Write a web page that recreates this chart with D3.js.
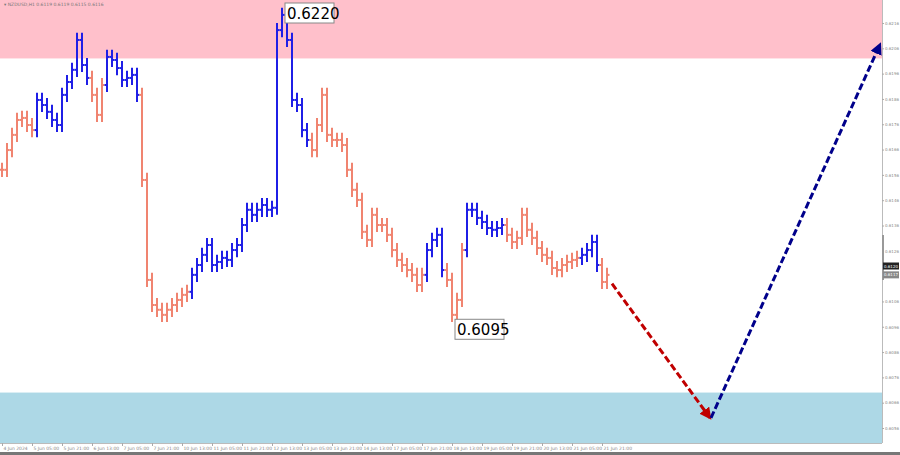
<!DOCTYPE html>
<html>
<head>
<meta charset="utf-8">
<script src="https://cdn.jsdelivr.net/npm/d3@7"></script>
<style>
  body { margin: 0; background: #fff; }
  text { font-family: "DejaVu Sans", sans-serif; }
</style>
</head>
<body>
<div id="container"></div>
<script>
var width = 900;
var height = 455;

// closing prices, NZDUSD H1 (sampled)
var closes = [
  0.61580, 0.61658, 0.61718, 0.61777, 0.61785, 0.61757, 0.61737, 0.61856, 0.61836, 0.61809,
  0.61777, 0.61757, 0.61876, 0.61927, 0.61975, 0.62093, 0.61994, 0.61943, 0.61876, 0.61797,
  0.61915, 0.62026, 0.62014, 0.61982, 0.61935, 0.61943, 0.61955, 0.61876, 0.61540, 0.61145,
  0.61046, 0.61027, 0.61007, 0.61027, 0.61046, 0.61066, 0.61086, 0.61098, 0.61165, 0.61204,
  0.61244, 0.61283, 0.61204, 0.61216, 0.61232, 0.61224, 0.61263, 0.61283, 0.61362, 0.61422,
  0.61402, 0.61422, 0.61441, 0.61422, 0.61430, 0.62132, 0.62192, 0.62093, 0.61856, 0.61836,
  0.61737, 0.61698, 0.61658, 0.61757, 0.61876, 0.61718, 0.61698, 0.61698, 0.61678, 0.61580,
  0.61501, 0.61461, 0.61335, 0.61303, 0.61402, 0.61362, 0.61362, 0.61323, 0.61263, 0.61224,
  0.61204, 0.61184, 0.61165, 0.61125, 0.61165, 0.61263, 0.61303, 0.61323, 0.61184, 0.61145,
  0.61007, 0.61066, 0.61263, 0.61422, 0.61422, 0.61390, 0.61374, 0.61350, 0.61343, 0.61350,
  0.61362, 0.61323, 0.61295, 0.61311, 0.61402, 0.61343, 0.61311, 0.61271, 0.61244, 0.61232,
  0.61192, 0.61184, 0.61204, 0.61216, 0.61224, 0.61232, 0.61244, 0.61263, 0.61295, 0.61204,
  0.61137, 0.61165
];
// wave colouring: [from, to] bar index ranges drawn blue (up waves)
var blueRanges = [[7, 17], [21, 27], [38, 61], [85, 88], [93, 100], [116, 119]];
var timeLabels = ["4 Jun 2024", "5 Jun 05:00", "5 Jun 21:00", "6 Jun 13:00", "7 Jun 05:00",
  "7 Jun 21:00", "10 Jun 13:00", "11 Jun 05:00", "11 Jun 21:00", "12 Jun 13:00", "13 Jun 05:00",
  "13 Jun 21:00", "14 Jun 13:00", "17 Jun 05:00", "17 Jun 21:00", "18 Jun 13:00", "19 Jun 05:00",
  "19 Jun 21:00", "20 Jun 13:00", "21 Jun 05:00", "21 Jun 21:00"];
var priceTicks = [0.6216, 0.6206, 0.6196, 0.6186, 0.6176, 0.6166, 0.6156, 0.6146, 0.6136,
  0.6126, 0.6106, 0.6096, 0.6086, 0.6076, 0.6066, 0.6056];
var resistanceZone = [0.6202, 0.6233];
var supportZone = [0.6050, 0.6070];
var forecastDown = [[122, 0.6113], [141.6, 0.6060]];
var forecastUp = [[141.8, 0.6060], [175.6, 0.62075]];
var extremes = [{ i: 56, p: 0.6220, label: "0.6220" }, { i: 90, p: 0.6095, label: "0.6095" }];

var plotRight = 882, plotBottom = 443;

var x = d3.scaleLinear().domain([0, closes.length - 1]).range([2, 607]);
var y = d3.scaleLinear().domain([0.6216, 0.6056]).range([23, 428]);

var svg = d3.select("#container").append("svg")
  .attr("width", width).attr("height", height);

svg.append("defs").append("clipPath").attr("id", "plot")
  .append("rect").attr("width", plotRight).attr("height", plotBottom);

var g = svg.append("g").attr("clip-path", "url(#plot)");

g.append("rect").attr("x", 0).attr("width", plotRight)
  .attr("y", y(resistanceZone[1])).attr("height", y(resistanceZone[0]) - y(resistanceZone[1]))
  .attr("fill", "#ffc0cb");
g.append("rect").attr("x", 0).attr("width", plotRight)
  .attr("y", y(supportZone[1])).attr("height", y(supportZone[0]) - y(supportZone[1]))
  .attr("fill", "#add8e6");

function isBlue(i) {
  return blueRanges.some(function(r) { return i >= r[0] && i <= r[1]; });
}

var wick = 0.00028;
var bars = g.append("g").selectAll("g").data(closes).enter().append("g")
  .attr("stroke", function(d, i) { return isBlue(i) ? "#1f1fe6" : "#f08470"; })
  .attr("stroke-width", 2);
bars.append("line")
  .attr("x1", function(d, i) { return x(i); }).attr("x2", function(d, i) { return x(i); })
  .attr("y1", function(d, i) { var o = i ? closes[i - 1] : d; return y(Math.max(o, d) + wick); })
  .attr("y2", function(d, i) { var o = i ? closes[i - 1] : d; return y(Math.min(o, d) - wick); });
bars.append("line")
  .attr("x1", function(d, i) { return x(i) - 2.5; }).attr("x2", function(d, i) { return x(i); })
  .attr("y1", function(d, i) { return y(i ? closes[i - 1] : d); })
  .attr("y2", function(d, i) { return y(i ? closes[i - 1] : d); });
bars.append("line")
  .attr("x1", function(d, i) { return x(i); }).attr("x2", function(d, i) { return x(i) + 2.5; })
  .attr("y1", function(d) { return y(d); }).attr("y2", function(d) { return y(d); });

// forecast arrows
var defs = svg.select("defs");
[["ahRed", "#c00000"], ["ahBlue", "#00008b"]].forEach(function(m) {
  defs.append("marker").attr("id", m[0]).attr("viewBox", "0 0 10 10")
    .attr("refX", 8).attr("refY", 5).attr("markerWidth", 4).attr("markerHeight", 4)
    .attr("orient", "auto").append("path").attr("d", "M0,0L10,5L0,10z").attr("fill", m[1]);
});
function arrow(pts, col, id) {
  g.append("line")
    .attr("x1", x(pts[0][0])).attr("y1", y(pts[0][1]))
    .attr("x2", x(pts[1][0])).attr("y2", y(pts[1][1]))
    .attr("stroke", col).attr("stroke-width", 3).attr("stroke-dasharray", "7,3")
    .attr("marker-end", "url(#" + id + ")");
}
arrow(forecastDown, "#c00000", "ahRed");
arrow(forecastUp, "#00008b", "ahBlue");

// extreme labels
extremes.forEach(function(e, k) {
  var lx = x(e.i) + 3, ly = k === 0 ? 3 : y(e.p) - 10;
  g.append("rect").attr("x", lx).attr("y", ly).attr("width", 49).attr("height", 20)
    .attr("fill", "#fff").attr("stroke", "#888");
  g.append("text").attr("x", lx + 2).attr("y", ly + 16).text(e.label)
    .attr("font-size", 15).attr("fill", "#000");
});

// header
svg.append("text").attr("x", 4).attr("y", 6).attr("font-size", 4.5).attr("fill", "#777")
  .text("▾ NZDUSD,H1  0.6119 0.6119 0.6115 0.6116");

// frame
svg.append("line").attr("x1", plotRight + 0.5).attr("x2", plotRight + 0.5).attr("y1", 0).attr("y2", plotBottom)
  .attr("stroke", "#bbb");
svg.append("line").attr("x1", 0).attr("x2", plotRight).attr("y1", plotBottom + 0.5).attr("y2", plotBottom + 0.5)
  .attr("stroke", "#bbb");
svg.append("rect").attr("x", 0).attr("y", 452).attr("width", width).attr("height", 3).attr("fill", "#777");

// price axis
var ya = svg.append("g").attr("transform", "translate(" + plotRight + ",0)")
  .call(d3.axisRight(y).tickValues(priceTicks).tickSize(2).tickFormat(d3.format(".4f")));
ya.select(".domain").remove();
ya.selectAll("text").attr("font-size", 4).attr("fill", "#888").attr("x", 3);
ya.selectAll("line").attr("stroke", "#aaa");
svg.append("rect").attr("x", plotRight).attr("y", 235).attr("width", 2).attr("height", 45).attr("fill", "#999");
[[0.61200, "#222"], [0.61165, "#888"]].forEach(function(t) {
  svg.append("rect").attr("x", plotRight + 1).attr("y", y(t[0]) - 3.5).attr("width", 16).attr("height", 7).attr("fill", t[1]);
  svg.append("text").attr("x", plotRight + 2).attr("y", y(t[0]) + 1.6).attr("font-size", 4).attr("fill", "#fff")
    .text(d3.format(".4f")(t[0]));
});

// time axis
var xa = svg.append("g").attr("transform", "translate(0," + plotBottom + ")")
  .call(d3.axisBottom(x).tickValues(d3.range(timeLabels.length).map(function(k) { return k * 6; }))
    .tickSize(3).tickFormat(function(d) { return timeLabels[d / 6]; }));
xa.select(".domain").remove();
xa.selectAll("text").attr("font-size", 4.5).attr("fill", "#888").attr("text-anchor", "start").attr("dx", 1).attr("dy", 1);
xa.selectAll("line").attr("stroke", "#aaa");
</script>
</body>
</html>
